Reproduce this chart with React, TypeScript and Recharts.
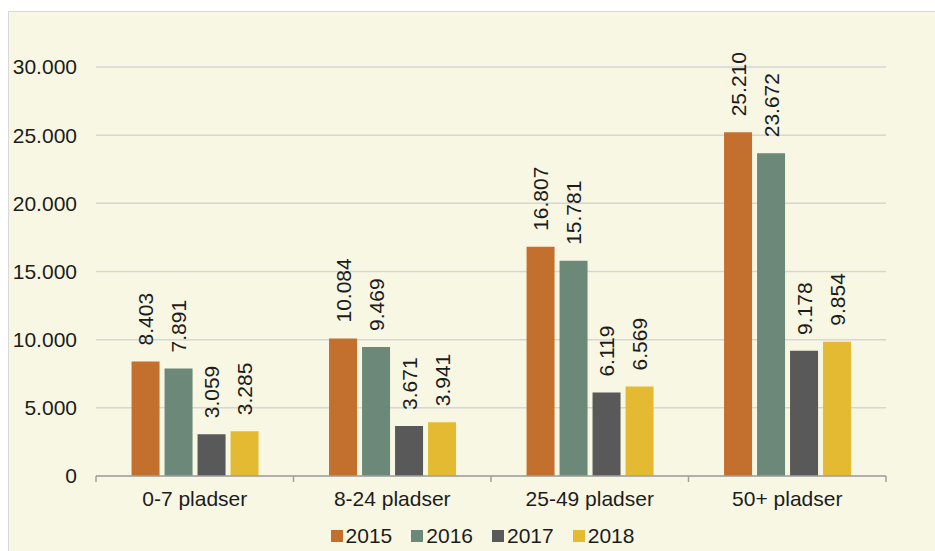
import { Bar, BarChart, CartesianGrid, LabelList, Legend, XAxis, YAxis } from 'recharts'

const categories = ['0-7 pladser', '8-24 pladser', '25-49 pladser', '50+ pladser']
const years = ['2015', '2016', '2017', '2018']
const values2015 = [8403, 10084, 16807, 25210]
const values2016 = [7891, 9469, 15781, 23672]
const values2017 = [3059, 3671, 6119, 9178]
const values2018 = [3285, 3941, 6569, 9854]
const yTicks = [0, 5000, 10000, 15000, 20000, 25000, 30000]

const colors = ['#C3702F', '#6B8878', '#595959', '#E3BA32']
const FONT = '"Liberation Sans", Arial, sans-serif'
const TEXT = '#1C1C1C'

const seriesValues = [values2015, values2016, values2017, values2018]
const data = categories.map((name, i) => {
  const row: Record<string, string | number> = { name }
  years.forEach((y, s) => {
    row[y] = seriesValues[s][i]
  })
  return row
})

// danish thousands separator
const fmt = (v: number) => String(v).replace(/\B(?=(\d{3})+(?!\d))/g, '.')

function CategoryTick(props: any) {
  const { x, y, payload, index, width, visibleTicksCount } = props
  const half = (width || 790) / (visibleTicksCount || 4) / 2
  return (
    <g>
      <line x1={x - half} x2={x - half} y1={y} y2={y + 6} stroke="#A0A0A0" strokeWidth={1.5} />
      {index === (visibleTicksCount || 4) - 1 && (
        <line x1={x + half} x2={x + half} y1={y} y2={y + 6} stroke="#A0A0A0" strokeWidth={1.5} />
      )}
      <text x={x} y={y + 23} dy="0.35em" textAnchor="middle" fontSize={21} fontFamily={FONT} fill={TEXT}>
        {payload.value}
      </text>
    </g>
  )
}

function BarValue(props: any) {
  const { x, y, width, value } = props
  const cx = x + width / 2
  const ty = y - 16
  return (
    <text
      x={cx}
      y={ty}
      transform={`rotate(-90, ${cx}, ${ty})`}
      textAnchor="start"
      dominantBaseline="central"
      fontSize={21}
      fontFamily={FONT}
      fill={TEXT}
    >
      {fmt(value)}
    </text>
  )
}

function LegendContent() {
  return (
    <div
      style={{
        display: 'flex',
        justifyContent: 'center',
        alignItems: 'center',
        height: 30,
        paddingLeft: 21,
        fontFamily: FONT,
        fontSize: 21,
        color: TEXT,
      }}
    >
      {years.map((y, i) => (
        <div key={y} style={{ display: 'flex', alignItems: 'center', marginRight: i < years.length - 1 ? 19 : 0 }}>
          <span style={{ width: 12, height: 12, background: colors[i], marginRight: 3, display: 'inline-block' }} />
          <span>{y}</span>
        </div>
      ))}
    </div>
  )
}

export default function App() {
  return (
    <div
      style={{
        position: 'fixed',
        top: 11,
        left: 8,
        width: 927,
        height: 540,
        background: '#F8F7E3',
        borderTop: '1px solid #D9D9D9',
        borderLeft: '1px solid #D9D9D9',
        boxSizing: 'border-box',
      }}
    >
      <BarChart
        width={926}
        height={539}
        data={data}
        margin={{ top: 55, right: 49, left: 0, bottom: 15 }}
        barCategoryGap="18%"
        barGap={5}
        style={{ overflow: 'visible' }}
      >
        <CartesianGrid vertical={false} stroke="#D6D6D6" strokeWidth={1.5} />
        <XAxis
          dataKey="name"
          height={30}
          tickSize={0}
          tickMargin={0}
          tickLine={false}
          axisLine={{ stroke: '#A0A0A0', strokeWidth: 1.5 }}
          tick={<CategoryTick />}
          interval={0}
        />
        <YAxis
          width={87}
          domain={[0, 30000]}
          ticks={yTicks}
          tickFormatter={fmt}
          axisLine={false}
          tickLine={false}
          tickSize={0}
          tickMargin={19}
          tick={{ fontSize: 21, fontFamily: FONT, fill: TEXT }}
        />
        <Legend
          verticalAlign="bottom"
          content={<LegendContent />}
          wrapperStyle={{ bottom: 0, left: 0, width: 926 }}
        />
        {years.map((y, i) => (
          <Bar key={y} dataKey={y} fill={colors[i]} isAnimationActive={false}>
            <LabelList dataKey={y} content={<BarValue />} />
          </Bar>
        ))}
      </BarChart>
    </div>
  )
}
